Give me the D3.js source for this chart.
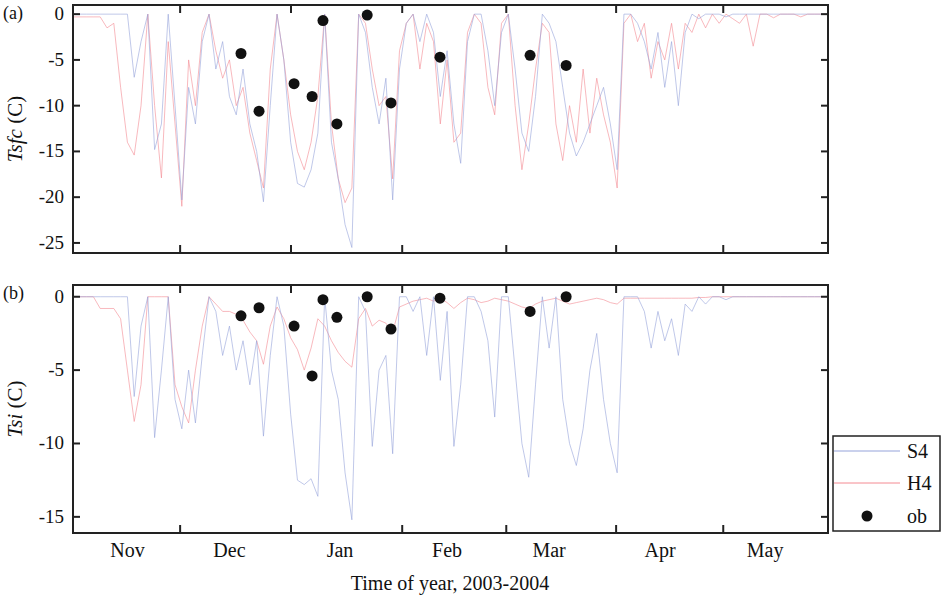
<!DOCTYPE html>
<html><head><meta charset="utf-8">
<script src="https://cdn.jsdelivr.net/npm/d3@7"></script>
<style>body{margin:0;background:#fff}svg text{font-family:'Liberation Serif','Times New Roman','DejaVu Serif',serif}</style>
</head><body><svg id="c" width="941" height="601"></svg>
<script>
// samples every 2 days, day 0 = Oct 30 2003
var step = 2;
var sfcS4 = [0,0,0,0,0,0,0,0,0,-6.9,-3,0,-14.8,-12,0,-10,-20.3,-8,-12,-3,0,-6,-3,-9,-11,-6,-12,-15,-20.5,-10,
  0,-5,-14,-18.5,-18.9,-17,-13,0,-14,-18,-23,-25.5,0,-2,-8,-12,-7,-20.3,-6,-1,0,-3,0,-2,-9,-4,-12,-16.3,-3,0,
  0,-4,-10,-2,0,-6,-13,-15,-9,0,-1,-3,-8,-13,-15.5,-14,-12,-10,-8,-12,-17,0,0,-1,-3,-6,-2,-8,-3,-10,
  -2,0,-0.5,0,0,0,-0.3,0,0,0,0,0,0,0,0,0,0,0,0,0,0,0];
var sfcH4 = [-0.3,-0.3,-0.3,-0.3,-0.3,-1.5,-1,-8,-14,-15.4,-10,0,-10,-17.9,-3,-12,-21,-5,-10,-2,0,-4,-7,-5,-10,-8,-13,-16,-19,-6,
  0,-5,-11,-15,-17,-14,-9,0,-12,-18,-20.6,-19,0,-1,-6,-10,-9,-18,-4,-1,0,-6,-1,-3,-12,-5,-14,-13,-2,0,
  -1,-8,-11,-1,0,-10,-17,-12,-6,-1,-2,-12,-16,-10,-14,-6,-13,-7,-11,-14,-19,-1,0,-3,-1,-7,-3,-5,-1,-6,
  -1,-2,0,-1.5,0,-1,0,-0.5,-1,0,-3.5,0,0,-0.4,0,0,0,-0.3,0,0,0,0];
var siS4 = [0,0,0,0,0,0,0,0,0,-6.8,-2,0,-9.6,-5,0,-7,-9,-5,-8.6,-4,0,-1,-4,-2,-5,-3,-6,-3,-9.5,-4,
  0,-2,-8,-12.5,-12.8,-12.4,-13.6,0,-5,-7,-12,-15.2,0,-1,-10.2,-5,-4,-10.7,0,0,-1,0,-4,0,-5.7,-1,-10.2,-6,0,0,
  -1,-3,-8.2,0,0,-5,-10,-12.3,-6,0,-3.5,0,-7,-10,-11.5,-9,-5,-2.5,-7,-10,-12,0,0,0,-1,-3.5,-1,-3,-1.5,-4,
  -0.5,-1,0,-0.5,0,0,-0.2,0,0,0,0,0,0,0,0,0,0,0,0,0,0,0];
var siH4 = [0,0,0,0,-0.8,-0.8,-0.8,-1.5,-5,-8.5,-6,0,0,0,0,-6,-7.5,-8.6,-5,-2,0,-0.5,-1,-1,-1.2,-1.6,-2.4,-3,-4.6,-2,
  -0.7,-1.5,-2.8,-3.6,-5,-3.5,-1.5,-2,-3,-3.8,-4.4,-4.8,-1.5,-0.8,-2,-1.6,-1.8,-2.4,-0.7,-0.5,-0.3,-0.2,-0.1,-0.3,-0.1,-0.4,-0.8,-0.4,-0.1,-0.2,
  -0.4,-0.3,-0.1,-0.2,-0.3,-0.5,-0.7,-0.8,-0.5,-0.3,-0.2,-0.1,-0.3,-0.5,-0.4,-0.3,-0.2,-0.1,-0.2,-0.4,-0.5,-0.1,-0.1,-0.1,-0.1,-0.1,-0.1,-0.1,-0.1,-0.1,
  -0.1,-0.1,-0.05,-0.05,0,0,0,0,0,0,0,0,0,0,0,0,0,0,0,0,0,0];
var obsDay = [49.4,54.7,65,70.3,73.5,77.6,86.5,93.5,107.9,134.4,145];
var obsSfc = [-4.3,-10.6,-7.6,-9.0,-0.7,-12.0,-0.1,-9.7,-4.7,-4.5,-5.6];
var obsSi = [-1.3,-0.75,-2.0,-5.4,-0.2,-1.4,0,-2.2,-0.1,-1.0,0];
var monthLabels = ["Nov","Dec","Jan","Feb","Mar","Apr","May"];
var monthPos = [16,46,78.5,110,140,172.6,203.5];
var majorTicks = [31.5,64.1,96.8,127.4,159.7,191.2];
var blue = "#95a3da", red = "#f48a92";
var serif = "'Liberation Serif','Times New Roman','DejaVu Serif',serif";

var svg = d3.select("#c");
var x = d3.scaleLinear().domain([0,222]).range([73,828]);

function txt(g) { return g.append("text").attr("font-family", serif).attr("fill", "#111"); }

function panel(top, bottom, dom, yt, s4, h4, obs, label, ylab, showX) {
  var y = d3.scaleLinear().domain(dom).range([bottom, top]);
  var g = svg.append("g");
  var line = d3.line().x(function(d,i){return x(i*step);}).y(function(d){return y(d);});
  g.append("path").datum(h4).attr("d", line).attr("fill","none").attr("stroke",red).attr("stroke-width",0.6);
  g.append("path").datum(s4).attr("d", line).attr("fill","none").attr("stroke",blue).attr("stroke-width",0.6);
  g.selectAll("circle").data(obs).enter().append("circle")
    .attr("cx", function(d,i){return x(obsDay[i]);}).attr("cy", function(d){return y(d);})
    .attr("r", 5.5).attr("fill","#111");
  g.append("rect").attr("x",73).attr("y",top).attr("width",755).attr("height",bottom-top)
    .attr("fill","none").attr("stroke","#222").attr("stroke-width",2);
  yt.forEach(function(v){
    g.append("line").attr("x1",73).attr("x2",80).attr("y1",y(v)).attr("y2",y(v)).attr("stroke","#222").attr("stroke-width",2);
    g.append("line").attr("x1",821).attr("x2",828).attr("y1",y(v)).attr("y2",y(v)).attr("stroke","#222").attr("stroke-width",2);
    txt(g).attr("x",64).attr("y",y(v)+6).attr("text-anchor","end").attr("font-size",19).text(v);
  });
  majorTicks.forEach(function(t){
    g.append("line").attr("x1",x(t)).attr("x2",x(t)).attr("y1",top).attr("y2",top+8).attr("stroke","#222").attr("stroke-width",2);
    g.append("line").attr("x1",x(t)).attr("x2",x(t)).attr("y1",bottom-8).attr("y2",bottom).attr("stroke","#222").attr("stroke-width",2);
  });
  if (showX) {
    monthLabels.forEach(function(m,i){
      txt(g).attr("x",x(monthPos[i])).attr("y",bottom+24).attr("text-anchor","middle").attr("font-size",20).text(m);
    });
  }
  txt(g).attr("x",3).attr("y",top+14).attr("font-size",18).text(label);
  var yl = txt(g).attr("transform","translate(22,"+((top+bottom)/2)+") rotate(-90)")
    .attr("text-anchor","middle").attr("font-size",21);
  yl.append("tspan").attr("font-style","italic").text(ylab);
  yl.append("tspan").text(" (C)");
}

panel(5, 253, [-26.1, 1], [0,-5,-10,-15,-20,-25], sfcS4, sfcH4, obsSfc, "(a)", "Tsfc", false);
panel(285, 533, [-16.1, 0.8], [0,-5,-10,-15], siS4, siH4, obsSi, "(b)", "Tsi", true);

txt(svg).attr("x",450).attr("y",590).attr("text-anchor","middle").attr("font-size",20).text("Time of year, 2003-2004");

var lg = svg.append("g");
lg.append("rect").attr("x",833).attr("y",436).attr("width",107).attr("height",95).attr("fill","#fff").attr("stroke","#222").attr("stroke-width",1.5);
lg.append("line").attr("x1",834).attr("x2",900).attr("y1",451).attr("y2",451).attr("stroke",blue);
lg.append("line").attr("x1",834).attr("x2",900).attr("y1",483).attr("y2",483).attr("stroke",red);
lg.append("circle").attr("cx",867).attr("cy",516).attr("r",5.5).attr("fill","#111");
[["S4",458],["H4",490],["ob",523]].forEach(function(d){
  txt(lg).attr("x",907).attr("y",d[1]).attr("font-size",20).text(d[0]);
});
</script></body></html>
